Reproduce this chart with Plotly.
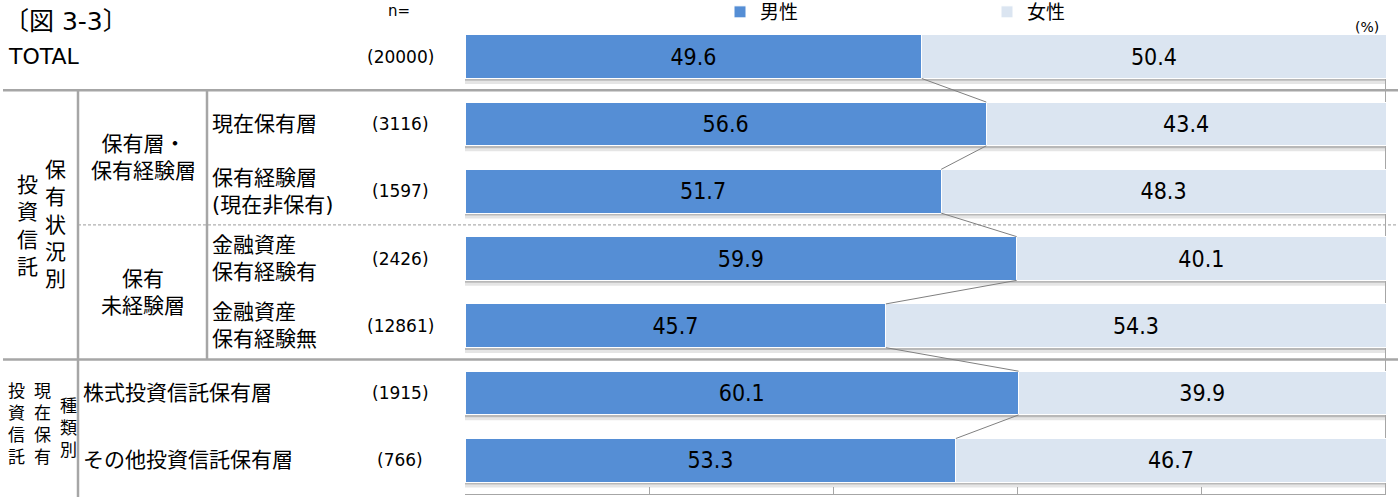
import plotly.graph_objects as go

# ---------------- data ----------------
categories = ["TOTAL", "現在保有層", "保有経験層(現在非保有)", "金融資産保有経験有",
              "金融資産保有経験無", "株式投資信託保有層", "その他投資信託保有層"]
n_values = ["(20000)", "(3116)", "(1597)", "(2426)", "(12861)", "(1915)", "(766)"]
male = [49.6, 56.6, 51.7, 59.9, 45.7, 60.1, 53.3]
female = [50.4, 43.4, 48.3, 40.1, 54.3, 39.9, 46.7]
series_names = ["男性", "女性"]

row_labels = ["現在保有層", "保有経験層<br>(現在非保有)", "金融資産<br>保有経験有", "金融資産<br>保有経験無"]
group_labels = ["保有層・<br>保有経験層", "保有<br>未経験層"]

# ---------------- style ----------------
W, H = 1398, 497
PL, PR, PT, PB = 465, 1386, 23, 494
C_MALE = "#558ed5"
C_FEMALE = "#dbe5f1"
LINE = "#a6a6a6"
JP = "DejaVu Sans, Noto Sans CJK JP, sans-serif"
NUM = "DejaVu Sans Condensed, Liberation Sans Narrow, Noto Sans, sans-serif"
BAR_W = 0.65


def px2x(p):
    return (p - PL) / (PR - PL)


def py2y(p):
    return (PB - p) / (PB - PT)


pos = list(range(len(categories)))

fig = go.Figure()
fig.add_trace(go.Bar(
    y=pos, x=male, orientation="h", name=series_names[0], width=BAR_W,
    marker=dict(color=C_MALE, line=dict(color="white", width=1)),
    texttemplate="%{x:.1f}", textposition="inside", insidetextanchor="middle",
    textangle=0, constraintext="none",
    textfont=dict(family=NUM, size=23, color="#000000"),
    hoverinfo="skip",
))
fig.add_trace(go.Bar(
    y=pos, x=female, orientation="h", name=series_names[1], width=BAR_W,
    marker=dict(color=C_FEMALE, line=dict(color="white", width=1)),
    texttemplate="%{x:.1f}", textposition="inside", insidetextanchor="middle",
    textangle=0, constraintext="none",
    textfont=dict(family=NUM, size=23, color="#000000"),
    hoverinfo="skip",
))

# series lines (connectors between ends of male bars)
cx, cy = [], []
for i in range(len(male) - 1):
    cx += [male[i], male[i + 1], None]
    cy += [pos[i] + BAR_W / 2, pos[i + 1] - BAR_W / 2, None]
fig.add_trace(go.Scatter(x=cx, y=cy, mode="lines", line=dict(color="#808080", width=1),
                         showlegend=False, hoverinfo="skip"))

shapes = []
# bar shadows
for p in pos:
    shapes.append(dict(type="rect", xref="x", yref="y", x0=-0.2, x1=100, y0=p + BAR_W / 2,
                       y1=p + BAR_W / 2 + 0.035, fillcolor="rgba(0,0,0,0.28)", line_width=0, layer="below"))
    shapes.append(dict(type="rect", xref="x", yref="y", x0=-0.2, x1=100, y0=p + BAR_W / 2 + 0.035,
                       y1=p + BAR_W / 2 + 0.08, fillcolor="rgba(0,0,0,0.10)", line_width=0, layer="below"))
# right vertical axis line
shapes.append(dict(type="line", xref="x", yref="y", x0=100, x1=100, y0=-BAR_W / 2, y1=6.5,
                   line=dict(color=LINE, width=2), layer="below"))
# horizontal separators
for yv in (0.5, 4.5):
    shapes.append(dict(type="line", xref="paper", yref="y", x0=px2x(3), x1=px2x(1398), y0=yv, y1=yv,
                       line=dict(color=LINE, width=2.5), layer="below"))
shapes.append(dict(type="line", xref="paper", yref="y", x0=px2x(78), x1=px2x(1398), y0=2.5, y1=2.5,
                   line=dict(color="#b0b0b0", width=1.2, dash="3px,2px"), layer="below"))
# vertical lines in the left table
shapes.append(dict(type="line", xref="paper", yref="paper", x0=px2x(78), x1=px2x(78),
                   y0=py2y(90), y1=py2y(497), line=dict(color=LINE, width=2.5)))
shapes.append(dict(type="line", xref="paper", yref="paper", x0=px2x(207), x1=px2x(207),
                   y0=py2y(90), y1=py2y(359), line=dict(color=LINE, width=2.5)))

ann = []


def add_text(text, x, y, size, xanchor="left", yref="paper", align="left", font=JP):
    ann.append(dict(text=text, x=x, y=y, xref="paper", yref=yref, xanchor=xanchor, yanchor="middle",
                    showarrow=False, align=align, font=dict(family=font, size=size, color="#000000")))


add_text("〔図 3-3〕", px2x(2), py2y(21), 25)
add_text("n=", px2x(399), py2y(11), 15, xanchor="center")
add_text("(%)", px2x(1381), py2y(27), 14, xanchor="right")
add_text("TOTAL", px2x(6), 0, 22, yref="y")

for i, nv in enumerate(n_values):
    add_text(nv, px2x(400), pos[i], 17, xanchor="center", yref="y")

for i, lab in enumerate(row_labels):
    add_text(lab, px2x(210), pos[i + 1], 21, yref="y")
add_text(categories[5], px2x(81), pos[5], 21, yref="y")
add_text(categories[6], px2x(81), pos[6], 21, yref="y")

add_text(group_labels[0], px2x(143), 1.5, 21, xanchor="center", yref="y", align="center")
add_text(group_labels[1], px2x(143), 3.5, 21, xanchor="center", yref="y", align="center")

add_text("<br>".join("投資信託"), px2x(27), py2y(226), 21, xanchor="center", align="center")
add_text("<br>".join("保有状況別"), px2x(55), py2y(224), 21, xanchor="center", align="center")
add_text("<br>".join("投資信託"), px2x(16), py2y(424), 17, xanchor="center", align="center")
add_text("<br>".join("現在保有"), px2x(42), py2y(424), 17, xanchor="center", align="center")
add_text("<br>".join("種類別"), px2x(68), py2y(428), 17, xanchor="center", align="center")

fig.update_layout(
    width=W, height=H,
    margin=dict(l=PL, r=W - PR, t=PT, b=H - PB, autoexpand=False),
    barmode="stack",
    plot_bgcolor="white", paper_bgcolor="white",
    showlegend=True,
    legend=dict(orientation="h", x=px2x(720), xanchor="left", y=py2y(-7), yanchor="top",
                entrywidth=222, entrywidthmode="pixels", itemwidth=30,
                font=dict(family=JP, size=19, color="#000000"),
                bgcolor="rgba(0,0,0,0)", traceorder="normal"),
    xaxis=dict(range=[0, 100], dtick=20, showgrid=False, zeroline=False, showline=True,
               linecolor=LINE, linewidth=1, ticks="inside", ticklen=7, tickcolor=LINE,
               showticklabels=False, fixedrange=True),
    yaxis=dict(range=[6.5, -0.5], showgrid=False, zeroline=False, showticklabels=False,
               ticks="", showline=False, fixedrange=True),
    shapes=shapes,
    annotations=ann,
)

fig.write_html("out.html")
